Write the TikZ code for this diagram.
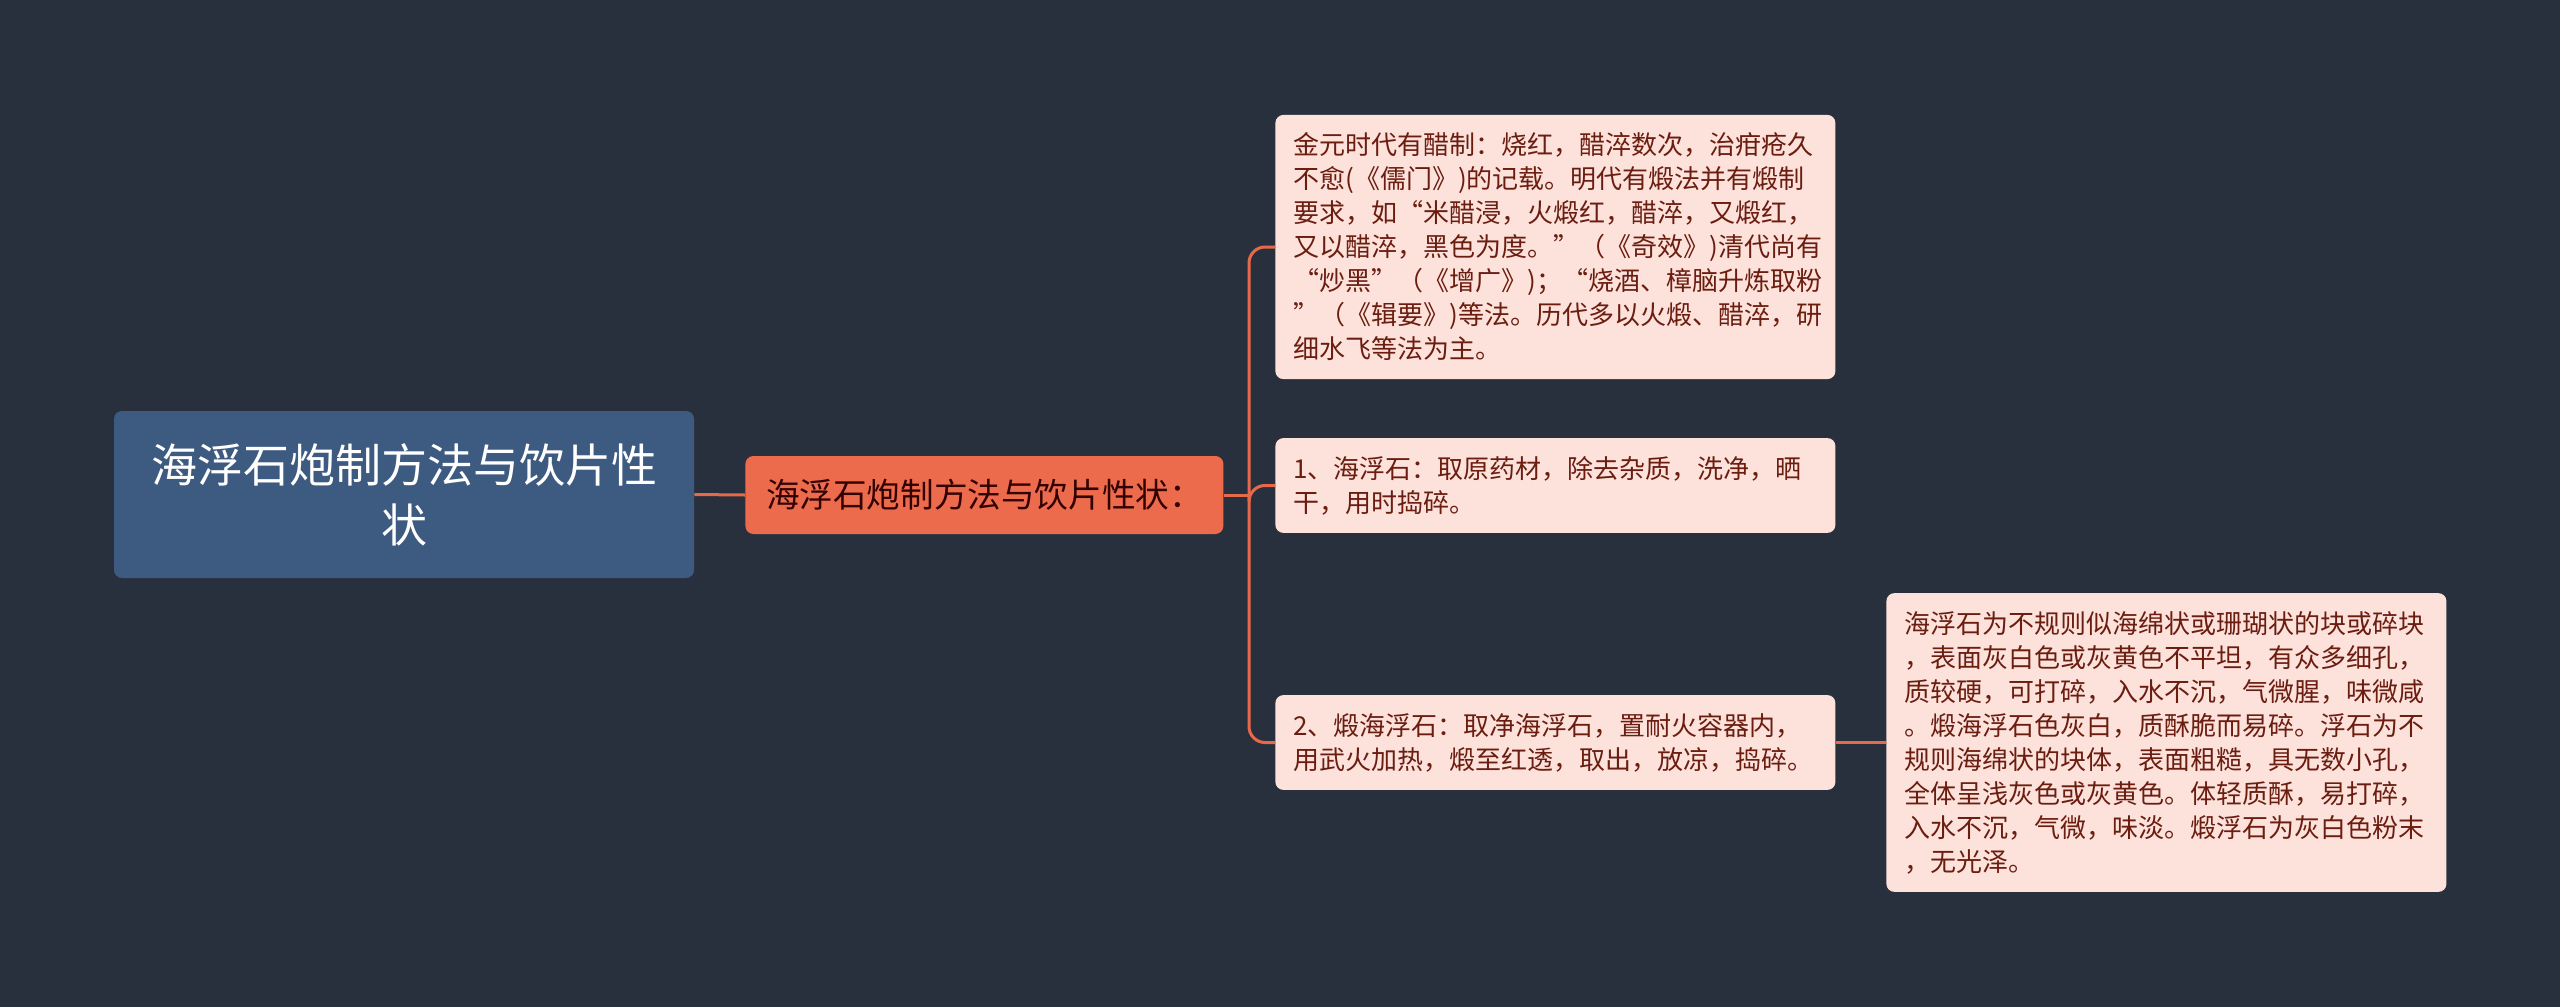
\documentclass[tikz,border=0pt]{standalone}
\usepackage{fontspec}
\setmainfont{Noto Sans CJK SC}
\definecolor{bgcol}{HTML}{29303D}
\definecolor{rootcol}{HTML}{3D5A80}
\definecolor{midcol}{HTML}{EB6B4C}
\definecolor{leafcol}{HTML}{FDE2DC}
\definecolor{leaftext}{HTML}{6B1D10}
\definecolor{linkcol}{HTML}{E8694A}
\begin{document}
\begin{tikzpicture}[x=0.5pt,y=-0.5pt,
    rootbox/.style={fill=rootcol, rounded corners=4pt, text=white, align=center,
        minimum width=290pt, minimum height=83.5pt, inner sep=0pt,
        font=\fontsize{23pt}{30pt}\selectfont},
    midbox/.style={fill=midcol, rounded corners=4pt, text=black!80!red, anchor=west,
        minimum width=239pt, minimum height=39pt, inner sep=0pt,
        font=\fontsize{16.8pt}{20pt}\selectfont},
    leafbox/.style={fill=leafcol, rounded corners=4pt, text=leaftext, align=left, anchor=west,
        text width=262pt, inner xsep=9pt, inner ysep=9pt,
        font=\fontsize{13pt}{17pt}\selectfont},
    link/.style={draw=linkcol, line width=1.5pt}]

        \fill[bgcol] (0,0) rectangle (2560,1007);

        \node [rootbox] (root) at (404,494.5) {海浮石炮制方法与饮片性\\状};
        \node [midbox] (mid) at (745,495) {海浮石炮制方法与饮片性状：};

        \node [leafbox] (jin) at (1275,247) {金元时代有醋制：烧红，醋淬数次，治疳疮久\\不愈(《儒门》)的记载。明代有煅法并有煅制\\要求，如“米醋浸，火煅红，醋淬，又煅红，\\又以醋淬，黑色为度。”（《奇效》)清代尚有\\“炒黑”（《增广》)；“烧酒、樟脑升炼取粉\\”（《辑要》)等法。历代多以火煅、醋淬，研\\细水飞等法为主。};
        \node [leafbox] (hai) at (1275,485.5) {1、海浮石：取原药材，除去杂质，洗净，晒\\干，用时捣碎。};
        \node [leafbox] (duan) at (1275,742.5) {2、煅海浮石：取净海浮石，置耐火容器内，\\用武火加热，煅至红透，取出，放凉，捣碎。};
        \node [leafbox] (xing) at (1886,742.5) {海浮石为不规则似海绵状或珊瑚状的块或碎块\\，表面灰白色或灰黄色不平坦，有众多细孔，\\质较硬，可打碎，入水不沉，气微腥，味微咸\\。煅海浮石色灰白，质酥脆而易碎。浮石为不\\规则海绵状的块体，表面粗糙，具无数小孔，\\全体呈浅灰色或灰黄色。体轻质酥，易打碎，\\入水不沉，气微，味淡。煅浮石为灰白色粉末\\，无光泽。};

        \coordinate (fork) at (1249,495);

        \draw [link] (root.east) -- (mid.west);
        \draw [link] (mid.east) -- (fork);
        \foreach \leaf in {jin,hai,duan}
            \draw [link, rounded corners=8pt] (fork) |- (\leaf.west);
        \draw [link] (duan.east) -- (xing.west);
    \end{tikzpicture}
\end{document}
